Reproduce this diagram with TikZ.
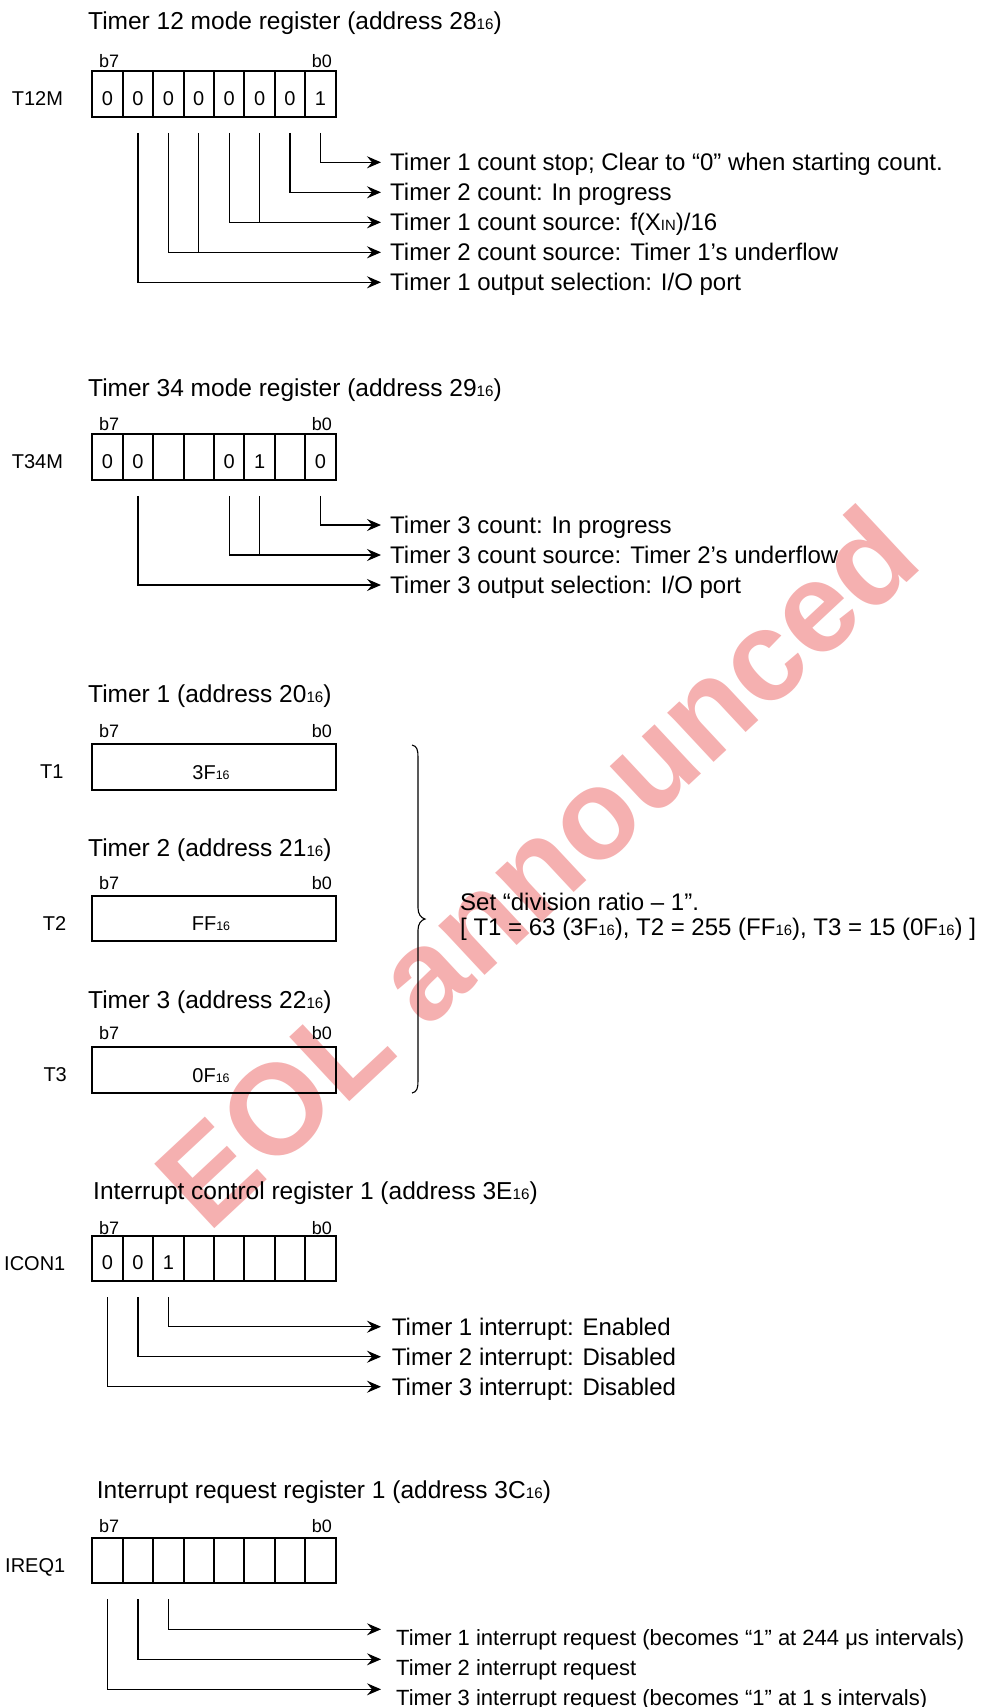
\documentclass[tikz,border=0pt]{standalone}
\usepackage{fontspec}
\setmainfont{Liberation Sans}
\usetikzlibrary{arrows.meta}
\definecolor{wmred}{RGB}{245,176,176}
\newcommand{\hx}[1]{\scalebox{0.62}{#1}}
\newcommand{\mkreg}[3]{%
  \foreach \v [count=\i from 0] in {#3} {
    \node[cell] (#1-\i) at ({92.3+30.42*(\i+0.5)},#2) {};
    \node[digit] (#1-d\i) at ([yshift=-4.5pt]#1-\i.center) {\v};
  }}
\begin{document}
\begin{tikzpicture}[x=1pt,y=-1pt,
  cell/.style={draw, line width=2pt, minimum width=30.42pt, minimum height=45.5pt, inner sep=0pt},
  wide/.style={draw, line width=2pt, minimum width=243.4pt, minimum height=45.5pt, inner sep=0pt},
  digit/.style={inner sep=0pt, font=\fontsize{20}{20}\selectfont, text height=14.3pt, text depth=0pt},
  title/.style={anchor=base west, inner sep=0pt, font=\fontsize{24.5}{24.5}\selectfont},
  bitw/.style={anchor=base west, inner sep=0pt, font=\fontsize{18}{18}\selectfont},
  bite/.style={anchor=base east, inner sep=0pt, font=\fontsize{18}{18}\selectfont},
  reglabel/.style={anchor=base west, inner sep=0pt, font=\fontsize{20}{20}\selectfont},
  rowtext/.style={anchor=west, inner sep=0pt, font=\fontsize{24}{24}\selectfont, text height=17.2pt, text depth=0pt},
  reqtext/.style={anchor=west, inner sep=0pt, font=\fontsize{22}{22}\selectfont, text height=15.75pt, text depth=0pt},
  conn/.style={line width=1.3pt},
  arr/.style={conn, -{Stealth[length=14pt,width=12pt,inset=5pt]}},
  wmark/.style={inner sep=0pt, text=wmred, font=\bfseries\fontsize{128}{128}\selectfont, rotate=43}
]
\useasboundingbox (0,0) rectangle (983,1707);

% watermark
\node[wmark] (wm) at (536,866) {EOL announced};

% ---------- Timer 12 mode register ----------
\node[title] (A-title) at (88,29.3) {Timer 12 mode register (address 28\hx{16})};
\node[bitw] (A-b7) at (99,67.7) {b7};
\node[bite] (A-b0) at (332,67.7) {b0};
\node[reglabel] (A-lab) at (11.7,105.8) {T12M};
\mkreg{A}{94.2}{0,0,0,0,0,0,0,1}
\node[rowtext] (A-t1) at (390,162.3) {Timer 1 count stop; Clear to “0” when starting count.};
\node[rowtext] (A-t2) at (390,192.3) {Timer 2 count: In progress};
\node[rowtext] (A-t3) at (390,222.3) {Timer 1 count source: f(X\hx{IN})/16};
\node[rowtext] (A-t4) at (390,252.3) {Timer 2 count source: Timer 1’s underflow};
\node[rowtext] (A-t5) at (390,282.3) {Timer 1 output selection: I/O port};
\draw[arr] ([yshift=-15pt]A-7.south) |- ([xshift=-9pt]A-t1.west);
\draw[arr] ([yshift=-15pt]A-6.south) |- ([xshift=-9pt]A-t2.west);
\draw[arr] ([yshift=-15pt]A-4.south) |- ([xshift=-9pt]A-t3.west);
\draw[conn] ([yshift=-15pt]A-5.south) -- (A-5.south |- A-t3.west);
\draw[arr] ([yshift=-15pt]A-2.south) |- ([xshift=-9pt]A-t4.west);
\draw[conn] ([yshift=-15pt]A-3.south) -- (A-3.south |- A-t4.west);
\draw[arr] ([yshift=-15pt]A-1.south) |- ([xshift=-9pt]A-t5.west);

% ---------- Timer 34 mode register ----------
\node[title] (B-title) at (88,396) {Timer 34 mode register (address 29\hx{16})};
\node[bitw] (B-b7) at (99,430.7) {b7};
\node[bite] (B-b0) at (332,430.7) {b0};
\node[reglabel] (B-lab) at (11.7,468.6) {T34M};
\mkreg{B}{457}{0,0,{},{},0,1,{},0}
\node[rowtext] (B-t1) at (390,525) {Timer 3 count: In progress};
\node[rowtext] (B-t2) at (390,555) {Timer 3 count source: Timer 2’s underflow};
\node[rowtext] (B-t3) at (390,585) {Timer 3 output selection: I/O port};
\draw[arr] ([yshift=-15pt]B-7.south) |- ([xshift=-9pt]B-t1.west);
\draw[arr] ([yshift=-15pt]B-4.south) |- ([xshift=-9pt]B-t2.west);
\draw[conn] ([yshift=-15pt]B-5.south) -- (B-5.south |- B-t2.west);
\draw[arr] ([yshift=-15pt]B-1.south) |- ([xshift=-9pt]B-t3.west);

% ---------- Timers 1-3 ----------
\node[title] (T1-title) at (88,702.7) {Timer 1 (address 20\hx{16})};
\node[bitw] (T1-b7) at (99,737.3) {b7};
\node[bite] (T1-b0) at (332,737.3) {b0};
\node[reglabel] (T1-lab) at (40,778.4) {T1};
\node[wide] (T1) at (214,766.8) {};
\node[digit] (T1-v) at (211,772) {3F\hx{16}};

\node[title] (T2-title) at (88,856.7) {Timer 2 (address 21\hx{16})};
\node[bitw] (T2-b7) at (99,889) {b7};
\node[bite] (T2-b0) at (332,889) {b0};
\node[reglabel] (T2-lab) at (42.7,930) {T2};
\node[wide] (T2) at (214,918.3) {};
\node[digit] (T2-v) at (211,923.5) {FF\hx{16}};

\node[title] (T3-title) at (88,1008.3) {Timer 3 (address 22\hx{16})};
\node[bitw] (T3-b7) at (99,1039.3) {b7};
\node[bite] (T3-b0) at (332,1039.3) {b0};
\node[reglabel] (T3-lab) at (43.3,1081.5) {T3};
\node[wide] (T3) at (214,1069.8) {};
\node[digit] (T3-v) at (211,1075) {0F\hx{16}};

% brace
\draw[line width=1.1pt] (412,745) .. controls (417,746) and (418,750) .. (418,757)
  -- (418,908) .. controls (418,914) and (421,918) .. (425,919)
  .. controls (421,920) and (418,924) .. (418,930)
  -- (418,1081) .. controls (418,1088) and (417,1092) .. (412,1093);
\node[anchor=base west, inner sep=0pt, font=\fontsize{24}{24}\selectfont] (set1) at (460,910.7) {Set “division ratio – 1”.};
\node[anchor=base west, inner sep=0pt, font=\fontsize{24}{24}\selectfont] (set2) at (460,935) {[ T1 = 63 (3F\hx{16}), T2 = 255 (FF\hx{16}), T3 = 15 (0F\hx{16}) ]};

% ---------- Interrupt control register 1 ----------
\node[title] (C-title) at (93,1199.3) {Interrupt control register 1 (address 3E\hx{16})};
\node[bitw] (C-b7) at (99,1234.3) {b7};
\node[bite] (C-b0) at (332,1234.3) {b0};
\node[reglabel] (C-lab) at (4,1270) {ICON1};
\mkreg{C}{1258.3}{0,0,1,{},{},{},{},{}}
\node[rowtext] (C-t1) at (391.7,1326.7) {Timer 1 interrupt: Enabled};
\node[rowtext] (C-t2) at (391.7,1356.7) {Timer 2 interrupt: Disabled};
\node[rowtext] (C-t3) at (391.7,1386.7) {Timer 3 interrupt: Disabled};
\draw[arr] ([yshift=-15pt]C-2.south) |- ([xshift=-10.7pt]C-t1.west);
\draw[arr] ([yshift=-15pt]C-1.south) |- ([xshift=-10.7pt]C-t2.west);
\draw[arr] ([yshift=-15pt]C-0.south) |- ([xshift=-10.7pt]C-t3.west);

% ---------- Interrupt request register 1 ----------
\node[title] (D-title) at (96.7,1498.3) {Interrupt request register 1 (address 3C\hx{16})};
\node[bitw] (D-b7) at (99,1532.7) {b7};
\node[bite] (D-b0) at (332,1532.7) {b0};
\node[reglabel] (D-lab) at (5,1572) {IREQ1};
\mkreg{D}{1560.5}{{},{},{},{},{},{},{},{}}
\node[reqtext] (D-t1) at (396,1637.3) {Timer 1 interrupt request (becomes “1” at 244 μs intervals)};
\node[reqtext] (D-t2) at (396,1667.3) {Timer 2 interrupt request};
\node[reqtext] (D-t3) at (396,1697.3) {Timer 3 interrupt request (becomes “1” at 1 s intervals)};
\draw[arr] ([yshift=-15pt]D-2.south) |- ([xshift=-15pt,yshift=8pt]D-t1.west);
\draw[arr] ([yshift=-15pt]D-1.south) |- ([xshift=-15pt,yshift=8pt]D-t2.west);
\draw[arr] ([yshift=-15pt]D-0.south) |- ([xshift=-15pt,yshift=8pt]D-t3.west);
\end{tikzpicture}
\end{document}
